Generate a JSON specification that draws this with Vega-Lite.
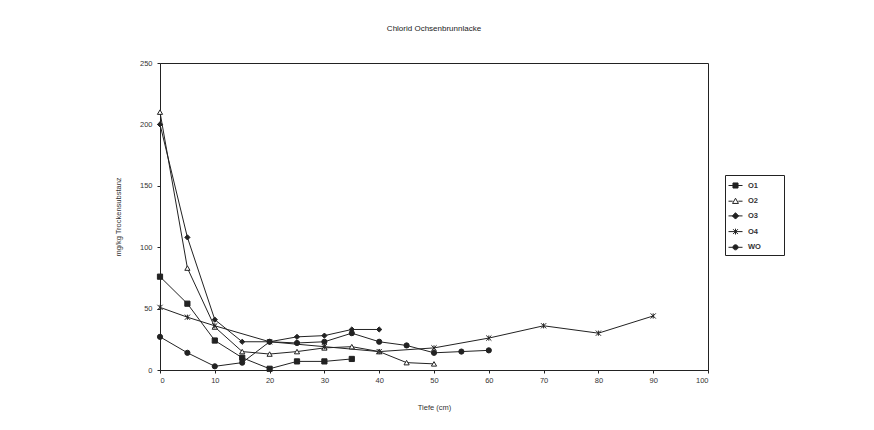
{
  "$schema": "https://vega.github.io/schema/vega-lite/v6.json",
  "width": 548,
  "height": 307,
  "autosize": "none",
  "padding": {"left": 160, "top": 63, "right": 166, "bottom": 60},
  "background": "white",
  "title": {
    "text": "Chlorid Ochsenbrunnlacke",
    "anchor": "middle",
    "fontSize": 8,
    "font": "Liberation Sans",
    "fontWeight": "normal",
    "color": "#222",
    "baseline": "bottom",
    "offset": 18
  },
  "config": {
    "view": {"stroke": "#222", "strokeWidth": 1},
    "axis": {
      "grid": false,
      "domainColor": "#222",
      "tickColor": "#222",
      "tickSize": 3,
      "labelFont": "Liberation Sans",
      "labelFontSize": 7.5,
      "labelColor": "#333",
      "titleFont": "Liberation Sans",
      "titleFontSize": 7.5,
      "titleFontWeight": "normal",
      "titleColor": "#333"
    },
    "legend": {
      "title": null,
      "orient": "none",
      "legendX": 565,
      "legendY": 112,
      "strokeColor": "#222",
      "padding": 3,
      "rowPadding": 2.7,
      "symbolSize": 196,
      "symbolStrokeWidth": 1,
      "labelFont": "Liberation Sans",
      "labelFontSize": 7.5,
      "labelFontWeight": "bold",
      "labelColor": "#333",
      "labelOffset": 5
    }
  },
  "data": {
    "values": [
      {"s": "O1", "x": 0, "y": 76}, {"s": "O1", "x": 5, "y": 54}, {"s": "O1", "x": 10, "y": 24}, {"s": "O1", "x": 15, "y": 10},
      {"s": "O1", "x": 20, "y": 1}, {"s": "O1", "x": 25, "y": 7}, {"s": "O1", "x": 30, "y": 7}, {"s": "O1", "x": 35, "y": 9},
      {"s": "O2", "x": 0, "y": 210}, {"s": "O2", "x": 5, "y": 83}, {"s": "O2", "x": 10, "y": 35}, {"s": "O2", "x": 15, "y": 15},
      {"s": "O2", "x": 20, "y": 13}, {"s": "O2", "x": 25, "y": 15}, {"s": "O2", "x": 30, "y": 18}, {"s": "O2", "x": 35, "y": 19},
      {"s": "O2", "x": 40, "y": 15}, {"s": "O2", "x": 45, "y": 6}, {"s": "O2", "x": 50, "y": 5},
      {"s": "O3", "x": 0, "y": 200}, {"s": "O3", "x": 5, "y": 108}, {"s": "O3", "x": 10, "y": 41}, {"s": "O3", "x": 15, "y": 23},
      {"s": "O3", "x": 20, "y": 23}, {"s": "O3", "x": 25, "y": 27}, {"s": "O3", "x": 30, "y": 28}, {"s": "O3", "x": 35, "y": 33},
      {"s": "O3", "x": 40, "y": 33},
      {"s": "O4", "x": 0, "y": 51}, {"s": "O4", "x": 5, "y": 43}, {"s": "O4", "x": 10, "y": 36}, {"s": "O4", "x": 20, "y": 23},
      {"s": "O4", "x": 30, "y": 19}, {"s": "O4", "x": 40, "y": 15}, {"s": "O4", "x": 50, "y": 18}, {"s": "O4", "x": 60, "y": 26},
      {"s": "O4", "x": 70, "y": 36}, {"s": "O4", "x": 80, "y": 30}, {"s": "O4", "x": 90, "y": 44},
      {"s": "WO", "x": 0, "y": 27}, {"s": "WO", "x": 5, "y": 14}, {"s": "WO", "x": 10, "y": 3}, {"s": "WO", "x": 15, "y": 6},
      {"s": "WO", "x": 20, "y": 23}, {"s": "WO", "x": 25, "y": 22}, {"s": "WO", "x": 30, "y": 23}, {"s": "WO", "x": 35, "y": 30},
      {"s": "WO", "x": 40, "y": 23}, {"s": "WO", "x": 45, "y": 20}, {"s": "WO", "x": 50, "y": 14}, {"s": "WO", "x": 55, "y": 15},
      {"s": "WO", "x": 60, "y": 16}
    ]
  },
  "encoding": {
    "x": {
      "field": "x", "type": "quantitative",
      "scale": {"domain": [0, 100], "nice": false},
      "axis": {"values": [0, 10, 20, 30, 40, 50, 60, 70, 80, 90, 100], "title": "Tiefe (cm)", "labelPadding": 3, "titlePadding": 20}
    },
    "y": {
      "field": "y", "type": "quantitative",
      "scale": {"domain": [0, 250], "nice": false},
      "axis": {"values": [0, 50, 100, 150, 200, 250], "title": "mg/kg Trockensubstanz", "labelPadding": 5, "titlePadding": 17}
    }
  },
  "layer": [
    {
      "mark": {"type": "line", "color": "#222", "strokeWidth": 1},
      "encoding": {"detail": {"field": "s"}}
    },
    {
      "mark": {"type": "point", "stroke": "#222", "strokeWidth": 1, "size": 27, "opacity": 1},
      "encoding": {
        "shape": {
          "field": "s", "type": "nominal",
          "scale": {
            "domain": ["O1", "O2", "O3", "O4", "WO"],
            "range": ["square", "triangle-up", "diamond", "M-1,-1L1,1M-1,1L1,-1M0,-1V1", "circle"]
          },
          "legend": null
        },
        "fill": {
          "field": "s", "type": "nominal",
          "scale": {
            "domain": ["O1", "O2", "O3", "O4", "WO"],
            "range": ["#222222", "#ffffff", "#222222", "transparent", "#222222"]
          },
          "legend": null
        }
      }
    },
    {
      "transform": [{"filter": "false"}],
      "mark": {"type": "point", "strokeWidth": 1, "size": 196, "opacity": 1},
      "encoding": {
        "shape": {
          "field": "s", "type": "nominal",
          "scale": {
            "domain": ["O1", "O2", "O3", "O4", "WO"],
            "range": [
              "M-1,0H1M-0.36,-0.36H0.36V0.36H-0.36ZM6.1,0",
              "M-1,0H-0.4M0.4,0H1M0,-0.42L0.42,0.32H-0.42ZM6.1,0",
              "M-1,0H1M0,-0.45L0.45,0L0,0.45L-0.45,0ZM6.1,0",
              "M-1,0H1M-0.35,-0.35L0.35,0.35M-0.35,0.35L0.35,-0.35M0,-0.42V0.42M6.1,0",
              "M-1,0H1M0.36,0A0.36,0.36 0 1,1 -0.36,0A0.36,0.36 0 1,1 0.36,0ZM6.1,0"
            ]
          }
        },
        "fill": {
          "field": "s", "type": "nominal",
          "scale": {
            "domain": ["O1", "O2", "O3", "O4", "WO"],
            "range": ["#222222", "#ffffff", "#222222", "transparent", "#222222"]
          }
        },
        "stroke": {
          "field": "s", "type": "nominal",
          "scale": {
            "domain": ["O1", "O2", "O3", "O4", "WO"],
            "range": ["#222222", "#222222", "#222222", "#222222", "#222222"]
          }
        }
      }
    }
  ],
  "resolve": {"scale": {"shape": "independent", "fill": "independent", "stroke": "independent"}}
}
